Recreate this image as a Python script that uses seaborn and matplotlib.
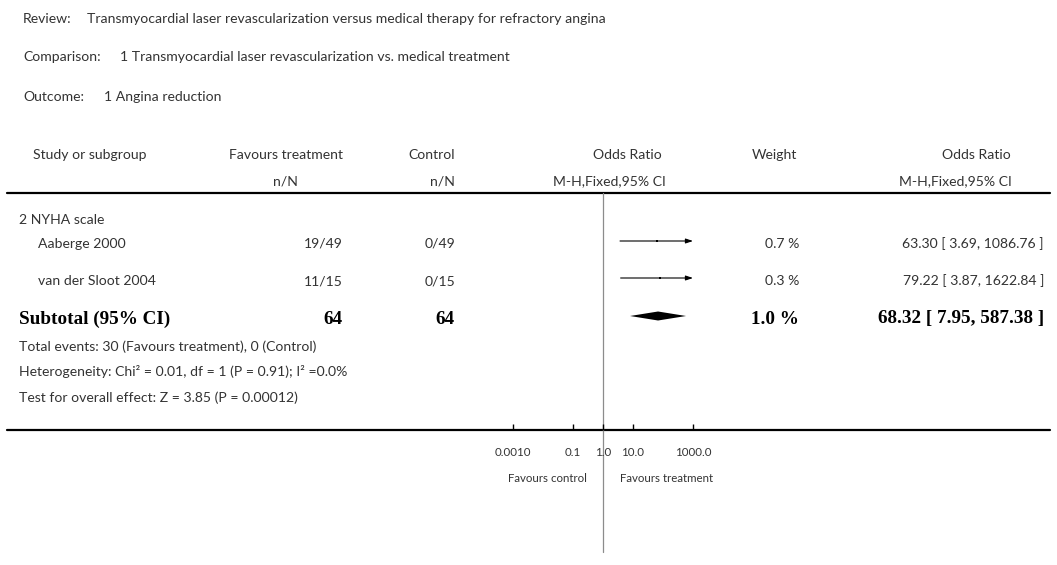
#!/usr/bin/env python3
"""
Forest plot: TMR vs medical therapy, angina reduction (RevMan style).
"""

import numpy as np
import pandas as pd
import matplotlib
matplotlib.use("Agg")
import matplotlib.pyplot as plt
import seaborn as sns

# Data
review = "Transmyocardial laser revascularization versus medical therapy for refractory angina"
comparison = "1 Transmyocardial laser revascularization vs. medical treatment"
outcome = "1 Angina reduction"
subgroup = "2 NYHA scale"

studies = ["Aaberge 2000", "van der Sloot 2004"]
treat_events = ["19/49", "11/15"]
control_events = ["0/49", "0/15"]
odds_ratio = [63.30, 79.22]
ci_low = [3.69, 3.87]
ci_high = [1086.76, 1622.84]
weights = ["0.7 %", "0.3 %"]

subtotal_label = "Subtotal (95% CI)"
subtotal_n = ["64", "64"]
subtotal_or = 68.32
subtotal_low = 7.95
subtotal_high = 587.38
subtotal_weight = "1.0 %"

footnotes = [
    "Total events: 30 (Favours treatment), 0 (Control)",
    "Heterogeneity: Chi\u00b2 = 0.01, df = 1 (P = 0.91); I\u00b2 =0.0%",
    "Test for overall effect: Z = 3.85 (P = 0.00012)",
]

tick_values = [0.001, 0.1, 1.0, 10.0, 1000.0]
tick_labels = ["0.0010", "0.1", "1.0", "10.0", "1000.0"]

# Layout (pixels)
W, H = 1057, 565
TEXT = "#333333"
FS = 10.1
row_y = [241, 278]
sub_y = 316
plot_left, plot_right = 513, 693
plot_top, plot_bottom = 193, 430

sns.set_theme(style="white")
plt.rcParams["font.family"] = ["Lato", "DejaVu Sans"]

fig = plt.figure(figsize=(W / 100, H / 100), dpi=100)
fig.patch.set_facecolor("white")

bg = fig.add_axes([0, 0, 1, 1])
bg.set_xlim(0, W)
bg.set_ylim(H, 0)
bg.axis("off")


def txt(x, y, s, ha="left", size=FS, color=TEXT, **kw):
    bg.text(x, y, s, ha=ha, va="center", fontsize=size, color=color, **kw)


# Top info
txt(23, 19, "Review:")
txt(87, 19, review)
txt(23, 57, "Comparison:")
txt(120, 57, comparison)
txt(23, 97, "Outcome:")
txt(104, 97, outcome)

# Column headers
txt(33, 155, "Study or subgroup")
txt(343, 155, "Favours treatment", ha="right")
txt(298, 181, "n/N", ha="right")
txt(455, 155, "Control", ha="right")
txt(455, 181, "n/N", ha="right")
txt(662, 155, "Odds Ratio", ha="right")
txt(666, 181, "M-H,Fixed,95% CI", ha="right")
txt(797, 155, "Weight", ha="right")
txt(1011, 155, "Odds Ratio", ha="right")
txt(1012, 181, "M-H,Fixed,95% CI", ha="right")

bg.plot([7, 1050], [plot_top, plot_top], color="black", lw=1.6)
bg.plot([7, 1050], [plot_bottom, plot_bottom], color="black", lw=1.6)

# Study rows
txt(19, 220, subgroup)
for i, y in enumerate(row_y):
    ty = y + 3
    txt(38, ty, studies[i])
    txt(343, ty, treat_events[i], ha="right")
    txt(455, ty, control_events[i], ha="right")
    txt(799, ty, weights[i], ha="right")
    txt(1044, ty, f"{odds_ratio[i]:.2f} [ {ci_low[i]:.2f}, {ci_high[i]:.2f} ]", ha="right")

bold = dict(family="Liberation Serif", fontweight="bold", size=13.8, color="black")
ty = sub_y + 3
txt(19, ty, subtotal_label, **bold)
txt(343, ty, subtotal_n[0], ha="right", **bold)
txt(455, ty, subtotal_n[1], ha="right", **bold)
txt(799, ty, subtotal_weight, ha="right", **bold)
txt(1044, ty, f"{subtotal_or:.2f} [ {subtotal_low:.2f}, {subtotal_high:.2f} ]", ha="right", **bold)

for y, s in zip([347, 372, 398], footnotes):
    txt(19, y, s)

# Forest panel
ax = fig.add_axes([plot_left / W, 1 - plot_bottom / H,
                   (plot_right - plot_left) / W, (plot_bottom - plot_top) / H])
ax.patch.set_alpha(0)
ax.set_xscale("log")
xmin, xmax = tick_values[0], tick_values[-1]
ax.set_xlim(xmin, xmax)
ax.set_ylim(plot_bottom, plot_top)
for s in ax.spines.values():
    s.set_visible(False)
ax.set_yticks([])
ax.set_xticks(tick_values)
ax.set_xticklabels(tick_labels)
ax.minorticks_off()
ax.tick_params(axis="x", direction="in", length=4, width=1.0, color="black",
               labelsize=8.3, labelcolor=TEXT, pad=12, bottom=True)

# line of no effect
ax.axvline(1.0, ymin=-(552 - plot_bottom) / (plot_bottom - plot_top), ymax=1,
           color="#8c8c8c", lw=0.9, clip_on=False, zorder=0)

df = pd.DataFrame({"or": odds_ratio, "lo": ci_low, "hi": ci_high, "y": row_y})
for _, r in df.iterrows():
    if r["hi"] > xmax:
        ax.annotate("", xy=(xmax, r["y"]), xytext=(r["lo"], r["y"]),
                    arrowprops=dict(arrowstyle="-|>,head_length=0.6,head_width=0.2",
                                    mutation_scale=7, lw=0.8, color="black",
                                    shrinkA=0, shrinkB=0))
    else:
        ax.hlines(r["y"], r["lo"], r["hi"], color="black", lw=0.8)
sns.scatterplot(data=df, x="or", y="y", marker="s", s=3, color="black",
                edgecolor="black", linewidth=0, ax=ax, legend=False)
ax.set_xlabel("")
ax.set_ylabel("")

dh = 4.5
ax.fill([subtotal_low, subtotal_or, subtotal_high, subtotal_or],
        [sub_y, sub_y - dh, sub_y, sub_y + dh], color="black", lw=0)

txt(547, 478, "Favours control", size=8.3, ha="center")
txt(667, 478, "Favours treatment", size=8.3, ha="center")

fig.savefig("out.png", dpi=100, facecolor="white")
